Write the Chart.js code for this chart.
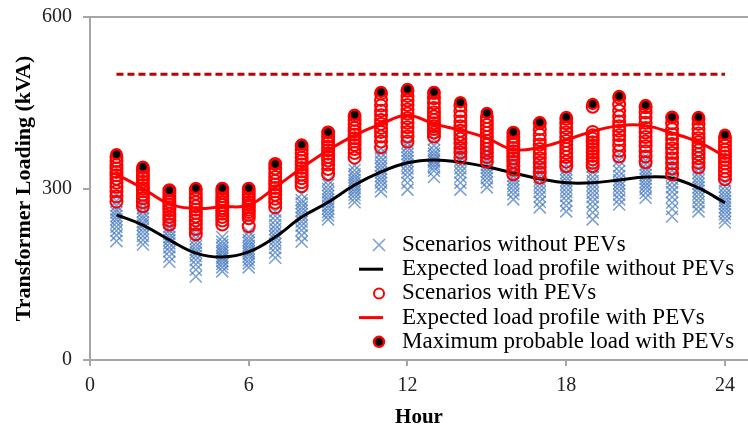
<!DOCTYPE html>
<html>
<head>
<meta charset="utf-8">
<script src="https://cdn.jsdelivr.net/npm/chart.js@4.4.1/dist/chart.umd.min.js"></script>
<style>
  html, body { margin: 0; padding: 0; background: #fff; }
  #wrap { width: 748px; height: 432px; }
</style>
</head>
<body>
<div id="wrap"><canvas id="loadChart" width="748" height="432"></canvas></div>
<script>
const hours = [1, 2, 3, 4, 5, 6, 7, 8, 9, 10, 11, 12, 13, 14, 15, 16, 17, 18, 19, 20, 21, 22, 23, 24];
const xTickValues = [0, 6, 12, 18, 24];
const yTickValues = [0, 300, 600];

// Expected load profiles (kVA)
const expectedWithout = [254, 236, 210, 187, 180, 189, 215, 250, 276, 306, 329, 345, 350, 346, 338, 327, 317, 310, 310, 315, 320, 318, 301, 275];
const expectedWith = [325, 300, 273, 265, 268, 271, 302, 336, 367, 393, 413, 428, 413, 402, 388, 368, 372, 385, 400, 410, 410, 397, 381, 356];
const maxProbable = [360, 338, 297, 301, 301, 301, 343, 377, 399, 429, 469, 474, 469, 451, 432, 399, 416, 425, 448, 462, 446, 425, 425, 394];

// Transformer rating line
const limitHours = [1, 24];
const limitValue = 500;

// Scenarios per hour, without PEVs
const scenariosWithout = [
  [208, 218, 226, 233, 240, 246, 252, 258, 263, 270, 278, 288],
  [202, 210, 217, 224, 230, 236, 241, 247, 252, 259, 266, 274],
  [172, 181, 190, 197, 204, 210, 215, 221, 227, 233, 240, 248],
  [146, 158, 167, 175, 182, 188, 193, 199, 205, 212, 220, 230],
  [155, 162, 168, 173, 178, 182, 187, 191, 196, 201, 207, 215],
  [162, 169, 175, 181, 186, 190, 195, 200, 205, 210, 216, 224],
  [179, 188, 196, 203, 210, 216, 222, 229, 236, 244, 252, 260],
  [207, 218, 227, 235, 242, 249, 255, 261, 267, 274, 280, 290],
  [246, 253, 259, 265, 270, 276, 281, 287, 293, 299, 306, 314],
  [276, 283, 289, 295, 300, 305, 310, 315, 320, 325, 332, 340],
  [295, 303, 310, 316, 322, 328, 334, 340, 347, 354, 362, 370],
  [298, 310, 320, 328, 335, 342, 348, 354, 360, 366, 373, 380],
  [320, 331, 337, 342, 347, 351, 356, 361, 367, 375, 386, 398],
  [298, 310, 320, 328, 335, 342, 349, 355, 361, 368, 375, 382],
  [302, 311, 318, 324, 330, 336, 341, 347, 353, 359, 366, 373],
  [281, 290, 297, 304, 310, 316, 322, 328, 335, 342, 350, 360],
  [267, 277, 286, 294, 301, 308, 315, 321, 328, 335, 342, 350],
  [260, 270, 279, 287, 294, 301, 308, 314, 320, 327, 334, 342],
  [246, 258, 268, 277, 285, 292, 299, 306, 313, 320, 328, 338],
  [272, 281, 289, 296, 303, 309, 315, 322, 330, 339, 349, 360],
  [284, 292, 299, 305, 311, 317, 323, 329, 335, 342, 349, 356],
  [251, 264, 275, 285, 294, 302, 310, 317, 324, 331, 338, 346],
  [260, 268, 276, 283, 290, 296, 302, 308, 314, 320, 327, 335],
  [241, 248, 255, 261, 267, 273, 278, 284, 290, 296, 303, 312]
];

// Scenarios per hour, with PEVs
const scenariosWith = [
  [277, 286, 295, 303, 310, 317, 323, 329, 335, 341, 348, 355],
  [269, 276, 283, 289, 295, 300, 306, 312, 318, 324, 330, 336],
  [237, 244, 250, 256, 262, 267, 272, 277, 282, 287, 292, 297],
  [220, 229, 237, 244, 251, 257, 263, 269, 276, 283, 291, 298],
  [237, 244, 250, 256, 261, 266, 271, 276, 281, 287, 293, 299],
  [234, 248, 254, 259, 263, 267, 271, 276, 282, 288, 294, 299],
  [267, 275, 282, 289, 295, 301, 307, 313, 320, 327, 335, 343],
  [304, 311, 318, 324, 330, 336, 342, 348, 354, 361, 368, 375],
  [325, 334, 342, 349, 355, 361, 367, 373, 379, 385, 391, 398],
  [354, 362, 369, 376, 382, 388, 394, 400, 406, 413, 420, 427],
  [372, 382, 391, 399, 406, 413, 420, 428, 436, 445, 455, 466],
  [382, 391, 399, 407, 415, 423, 431, 438, 446, 454, 462, 471],
  [391, 398, 404, 409, 414, 420, 426, 433, 441, 449, 458, 467],
  [354, 363, 371, 379, 387, 394, 401, 409, 417, 426, 435, 445],
  [347, 355, 362, 369, 376, 383, 390, 397, 404, 411, 418, 425],
  [325, 333, 340, 347, 353, 359, 365, 371, 377, 383, 390, 397],
  [319, 328, 337, 345, 353, 361, 369, 377, 385, 394, 404, 414],
  [339, 347, 355, 362, 369, 376, 383, 390, 398, 406, 414, 422],
  [339, 345, 351, 357, 363, 369, 375, 381, 387, 393, 399, 443],
  [356, 366, 376, 385, 393, 401, 409, 417, 426, 436, 447, 459],
  [346, 356, 365, 374, 382, 390, 398, 406, 415, 424, 433, 442],
  [325, 335, 344, 353, 362, 370, 378, 386, 395, 404, 414, 424],
  [337, 345, 353, 360, 367, 374, 381, 388, 396, 404, 413, 422],
  [316, 323, 330, 337, 344, 350, 356, 362, 368, 375, 382, 389]
];

const legendLabels = [
  'Scenarios without PEVs',
  'Expected load profile without PEVs',
  'Scenarios with PEVs',
  'Expected load profile with PEVs',
  'Maximum probable load with PEVs'
];

const BLUE_X = 'rgba(70, 122, 192, 0.72)';
const RED = '#ff0000';
const AXIS_GREY = '#a6a6a6';
const SERIF = '"Liberation Serif", "Times New Roman", serif';

function toPoints(values) {
  return hours.map((h, i) => ({ x: h, y: values[i] }));
}

function flattenScenarios(rows) {
  const pts = [];
  rows.forEach((row, i) => {
    row.forEach(v => pts.push({ x: hours[i], y: v }));
  });
  return pts;
}

// drop the extra room Chart.js keeps for edge tick labels
function noEdgePadding(s) {
  s.paddingTop = 0;
  s.paddingBottom = 0;
  s.paddingLeft = 0;
  s.paddingRight = 0;
}

// Legend sits inside the plot, lower right, like the original
const insideLegend = {
  id: 'insideLegend',
  afterDraw(chart) {
    const { ctx, chartArea } = chart;
    ctx.save();

    // top frame line
    ctx.strokeStyle = AXIS_GREY;
    ctx.lineWidth = 2;
    ctx.beginPath();
    ctx.moveTo(chartArea.left, chartArea.top);
    ctx.lineTo(chartArea.right, chartArea.top);
    ctx.stroke();

    const markerX = chartArea.left + 289;
    const textX = chartArea.left + 312;
    const rowY = i => chartArea.top + 228 + i * 24.2;

    ctx.font = '23px ' + SERIF;
    ctx.textBaseline = 'middle';
    ctx.textAlign = 'left';

    legendLabels.forEach((label, i) => {
      const y = rowY(i);
      if (i === 0) {
        ctx.strokeStyle = BLUE_X;
        ctx.lineWidth = 1.5;
        Chart.helpers.drawPoint(ctx, { pointStyle: 'crossRot', radius: 8.5, borderWidth: 1.5, rotation: 0 }, markerX, y);
      } else if (i === 1 || i === 3) {
        ctx.strokeStyle = i === 1 ? '#000' : RED;
        ctx.lineWidth = 3;
        ctx.beginPath();
        ctx.moveTo(markerX - 20, y);
        ctx.lineTo(markerX + 4, y);
        ctx.stroke();
      } else if (i === 2) {
        ctx.strokeStyle = RED;
        ctx.fillStyle = 'rgba(0,0,0,0)';
        ctx.lineWidth = 2;
        Chart.helpers.drawPoint(ctx, { pointStyle: 'circle', radius: 5, borderWidth: 2, rotation: 0 }, markerX, y);
      } else {
        ctx.strokeStyle = RED;
        ctx.fillStyle = '#000';
        ctx.lineWidth = 2.5;
        Chart.helpers.drawPoint(ctx, { pointStyle: 'circle', radius: 5, borderWidth: 2.5, rotation: 0 }, markerX, y);
      }
      ctx.fillStyle = '#000';
      ctx.fillText(label, textX, y);
    });
    ctx.restore();
  }
};

const ctx = document.getElementById('loadChart').getContext('2d');
const loadChart = new Chart(ctx, {
  type: 'scatter',
  data: {
    datasets: [
      {
        label: legendLabels[4],
        data: toPoints(maxProbable),
        pointStyle: 'circle',
        pointRadius: 5,
        backgroundColor: '#000',
        borderColor: RED,
        borderWidth: 2.5,
        order: 0
      },
      {
        label: legendLabels[3],
        data: toPoints(expectedWith),
        showLine: true,
        borderColor: RED,
        borderWidth: 3,
        tension: 0.4,
        pointRadius: 0,
        order: 1
      },
      {
        label: legendLabels[2],
        data: flattenScenarios(scenariosWith),
        pointStyle: 'circle',
        pointRadius: 6,
        backgroundColor: 'rgba(0,0,0,0)',
        borderColor: RED,
        borderWidth: 2,
        order: 2
      },
      {
        label: legendLabels[1],
        data: toPoints(expectedWithout),
        showLine: true,
        borderColor: '#000',
        borderWidth: 3,
        tension: 0.4,
        pointRadius: 0,
        order: 3
      },
      {
        label: legendLabels[0],
        data: flattenScenarios(scenariosWithout),
        pointStyle: 'crossRot',
        pointRadius: 8.5,
        borderColor: BLUE_X,
        borderWidth: 1.5,
        order: 4
      },
      {
        label: 'Rating',
        data: limitHours.map(h => ({ x: h, y: limitValue })),
        showLine: true,
        borderColor: '#c00000',
        borderWidth: 3,
        borderDash: [7, 4],
        pointRadius: 0,
        order: 5
      }
    ]
  },
  options: {
    responsive: false,
    animation: false,
    events: [],
    layout: { autoPadding: false, padding: { top: 17, right: 0, left: 0, bottom: 0 } },
    plugins: {
      legend: { display: false },
      tooltip: { enabled: false }
    },
    scales: {
      x: {
        type: 'linear',
        min: 0,
        max: 24.87,
        afterBuildTicks: s => { s.ticks = xTickValues.map(v => ({ value: v })); },
        afterFit: s => { s.height = 72; noEdgePadding(s); },
        grid: { drawOnChartArea: false, drawTicks: true, tickLength: 6, color: AXIS_GREY, lineWidth: 2 },
        border: { display: true, color: AXIS_GREY, width: 2 },
        ticks: { font: { family: SERIF, size: 20 }, color: '#222', padding: 8, maxRotation: 0 },
        title: {
          display: true,
          text: 'Hour',
          color: '#000',
          font: { family: SERIF, size: 21, weight: 'bold' },
          padding: { top: 0, bottom: 2 }
        }
      },
      y: {
        min: 0,
        max: 600,
        afterBuildTicks: s => { s.ticks = yTickValues.map(v => ({ value: v })); },
        afterFit: s => { s.width = 90; noEdgePadding(s); },
        grid: { drawOnChartArea: false, drawTicks: true, tickLength: 7, color: AXIS_GREY, lineWidth: 2 },
        border: { display: true, color: AXIS_GREY, width: 2 },
        ticks: { font: { family: SERIF, size: 20 }, color: '#222', padding: 11 },
        title: {
          display: true,
          text: 'Transformer Loading (kVA)',
          color: '#000',
          font: { family: SERIF, size: 22, weight: 'bold' },
          padding: { top: 11, bottom: 0 }
        }
      }
    }
  },
  plugins: [insideLegend]
});
</script>
</body>
</html>
